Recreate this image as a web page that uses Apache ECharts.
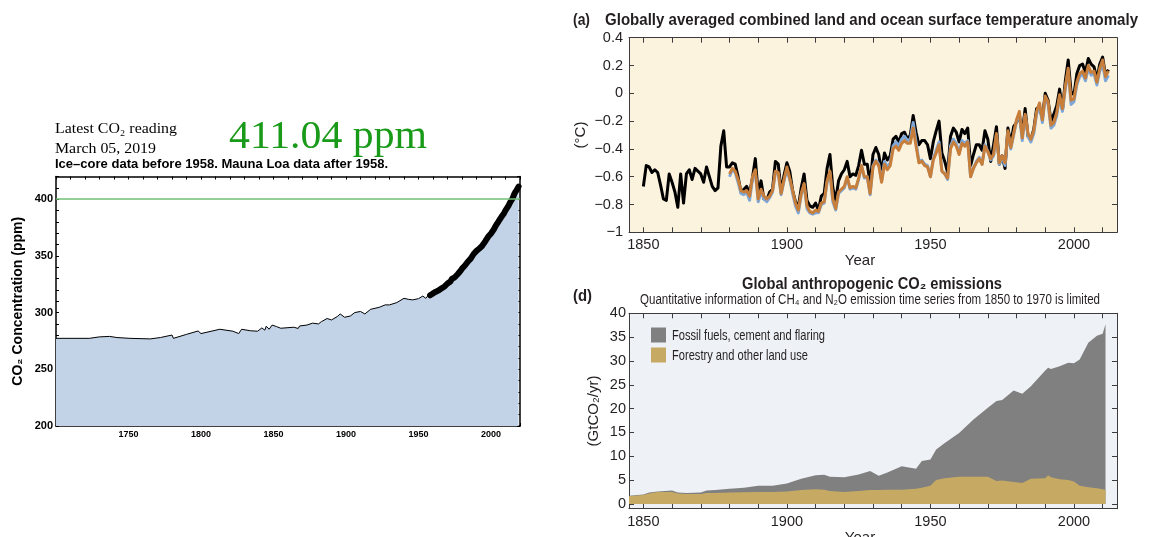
<!DOCTYPE html>
<html>
<head>
<meta charset="utf-8">
<script src="https://cdn.jsdelivr.net/npm/echarts@6.0.0/dist/echarts.min.js"></script>
<style>
  html, body { margin: 0; padding: 0; background: #fff; }
  #chart { width: 1149px; height: 537px; }
</style>
</head>
<body>
<div id="chart"></div>
<script>
// ---- CO2 record (left panel) ----
const iceCoreYears = [1700,1723,1730,1737,1742,1751,1765,1772,1780,1781,1790,1798,1800,1813,1822,1826,1828,1834,1839,1842,1844,1845,1847,1849,1852,1855,1864,1867,1868,1873,1877,1881,1883,1887,1890,1894,1896,1899,1903,1906,1910,1913,1917,1920,1923,1927,1930,1935,1940,1943,1946,1950,1953,1955,1957]
const iceCorePpm = [277.3,277.3,278.6,279.0,278.0,277.3,276.8,278.0,280.2,277.3,280.8,283.8,281.5,285.3,283.6,281.5,285.3,284.0,283.6,286.5,284.5,288.0,285.3,289.0,287.7,286.2,287.1,286.0,288.2,289.0,290.7,290.0,292.0,294.8,293.5,296.5,298.8,295.9,297.0,300.0,301.0,298.8,302.9,303.8,304.7,306.8,306.8,308.8,312.6,311.7,311.2,312.3,314.6,312.6,315.6]
const maunaLoaStart = 1958
const maunaLoaPpm = [315.2,315.98,316.91,317.64,318.45,318.99,319.62,320.04,321.38,322.16,323.04,324.62,325.68,326.32,327.46,329.68,330.19,331.13,332.03,333.84,335.41,336.84,338.76,340.12,341.48,343.15,344.87,346.35,347.61,349.31,351.69,353.20,354.45,355.70,356.54,357.21,358.96,360.97,362.74,363.88,366.84,368.54,369.71,371.32,373.45,375.98,377.70,379.98,382.09,384.02,385.83,387.64,390.10,391.85,394.06,396.74,398.81,401.01,404.41,406.76,408.72,411.04]
const co2Reference = 400
const co2YearLabels = [1750, 1800, 1850, 1900, 1950, 2000]
const co2PpmLabels = [200, 250, 300, 350, 400]

// ---- (a) temperature anomaly ----
const hadcrutStart = 1850
const hadcrutAnomaly = [
  -0.67,-0.52,-0.53,-0.57,-0.55,-0.57,-0.66,-0.76,-0.77,-0.58,
  -0.64,-0.71,-0.82,-0.58,-0.79,-0.58,-0.55,-0.62,-0.54,-0.56,
  -0.58,-0.64,-0.53,-0.60,-0.67,-0.70,-0.68,-0.38,-0.27,-0.53,
  -0.53,-0.50,-0.51,-0.60,-0.71,-0.69,-0.67,-0.72,-0.61,-0.47,
  -0.72,-0.63,-0.76,-0.77,-0.71,-0.69,-0.49,-0.51,-0.71,-0.59,
  -0.50,-0.56,-0.70,-0.78,-0.82,-0.68,-0.58,-0.77,-0.81,-0.82,
  -0.79,-0.84,-0.74,-0.72,-0.54,-0.44,-0.68,-0.77,-0.63,-0.58,
  -0.55,-0.49,-0.60,-0.58,-0.59,-0.52,-0.41,-0.51,-0.51,-0.65,
  -0.44,-0.39,-0.44,-0.57,-0.43,-0.48,-0.45,-0.33,-0.31,-0.35,
  -0.29,-0.28,-0.33,-0.30,-0.16,-0.28,-0.37,-0.34,-0.34,-0.37,
  -0.47,-0.35,-0.27,-0.20,-0.43,-0.49,-0.57,-0.31,-0.25,-0.28,
  -0.35,-0.26,-0.29,-0.25,-0.52,-0.44,-0.37,-0.37,-0.41,-0.27,
  -0.33,-0.49,-0.37,-0.24,-0.51,-0.45,-0.54,-0.25,-0.36,-0.24,
  -0.21,-0.16,-0.29,-0.11,-0.31,-0.33,-0.26,-0.11,-0.10,-0.18,
  0.00,-0.05,-0.20,-0.15,-0.09,0.03,-0.12,0.09,0.24,0.01,
  -0.01,0.14,0.20,0.21,0.15,0.25,0.21,0.19,0.10,0.21,
  0.26,0.13,0.17
]
const otherStart = 1880
const blueAnomaly = [
  -0.60,-0.55,-0.57,-0.64,-0.72,-0.73,-0.71,-0.77,-0.62,-0.57,
  -0.78,-0.71,-0.76,-0.78,-0.75,-0.71,-0.57,-0.58,-0.73,-0.63,
  -0.55,-0.62,-0.72,-0.81,-0.86,-0.73,-0.66,-0.83,-0.86,-0.87,
  -0.86,-0.86,-0.80,-0.79,-0.64,-0.57,-0.78,-0.84,-0.72,-0.70,
  -0.68,-0.61,-0.69,-0.68,-0.69,-0.62,-0.52,-0.61,-0.60,-0.73,
  -0.52,-0.48,-0.51,-0.63,-0.49,-0.53,-0.50,-0.38,-0.35,-0.38,
  -0.33,-0.31,-0.34,-0.33,-0.21,-0.35,-0.49,-0.48,-0.51,-0.52,
  -0.60,-0.47,-0.41,-0.35,-0.56,-0.58,-0.62,-0.38,-0.33,-0.36,
  -0.43,-0.34,-0.36,-0.34,-0.60,-0.54,-0.49,-0.46,-0.51,-0.37,
  -0.42,-0.48,-0.45,-0.30,-0.51,-0.46,-0.52,-0.28,-0.40,-0.30,
  -0.20,-0.15,-0.34,-0.16,-0.31,-0.35,-0.29,-0.15,-0.09,-0.21,
  -0.03,-0.08,-0.25,-0.23,-0.16,-0.03,-0.13,0.03,0.16,-0.08,
  -0.06,0.06,0.12,0.14,0.09,0.18,0.13,0.14,0.06,0.16,
  0.21,0.09,0.13
]
const orangeAnomaly = [
  -0.58,-0.54,-0.56,-0.62,-0.70,-0.71,-0.70,-0.74,-0.60,-0.55,
  -0.76,-0.69,-0.74,-0.76,-0.74,-0.70,-0.56,-0.57,-0.72,-0.62,
  -0.53,-0.61,-0.70,-0.79,-0.84,-0.72,-0.65,-0.81,-0.85,-0.86,
  -0.84,-0.85,-0.79,-0.78,-0.63,-0.56,-0.76,-0.83,-0.71,-0.69,
  -0.67,-0.60,-0.68,-0.67,-0.68,-0.61,-0.52,-0.60,-0.60,-0.72,
  -0.53,-0.49,-0.52,-0.64,-0.51,-0.55,-0.52,-0.40,-0.38,-0.41,
  -0.36,-0.34,-0.36,-0.36,-0.25,-0.38,-0.50,-0.49,-0.52,-0.53,
  -0.60,-0.48,-0.43,-0.37,-0.56,-0.58,-0.61,-0.40,-0.35,-0.38,
  -0.44,-0.36,-0.38,-0.35,-0.60,-0.54,-0.50,-0.47,-0.51,-0.38,
  -0.42,-0.47,-0.44,-0.29,-0.50,-0.45,-0.50,-0.27,-0.39,-0.29,
  -0.19,-0.13,-0.32,-0.15,-0.29,-0.33,-0.27,-0.13,-0.07,-0.19,
  -0.02,-0.06,-0.23,-0.21,-0.14,-0.01,-0.11,0.05,0.18,-0.05,
  -0.04,0.08,0.14,0.16,0.11,0.20,0.15,0.16,0.08,0.18,
  0.24,0.12,0.16
]
const decadeYearLabels = [1850, 1900, 1950, 2000]

// ---- (d) CO2 emissions ----
const emissionYears = [1845,1850,1852,1855,1860,1862,1865,1870,1872,1875,1880,1885,1890,1895,1900,1905,1910,1913,1915,1920,1925,1929,1932,1935,1940,1945,1947,1950,1952,1955,1960,1965,1970,1973,1975,1979,1982,1985,1990,1991,1992,1995,1998,2000,2002,2005,2008,2010,2011]
const forestryEmissions = [1.6,1.9,2.2,2.5,2.5,2.2,2.1,2.1,2.3,2.3,2.4,2.45,2.5,2.5,2.6,2.9,3.1,3.0,2.7,2.5,2.7,2.9,2.9,3.0,3.0,3.2,3.4,3.8,5.0,5.4,5.7,5.7,5.7,4.8,4.9,4.6,4.4,5.3,5.4,6.0,5.6,5.2,5.0,4.7,3.8,3.5,3.3,3.1,3.0]
const fossilEmissions = [0.1,0.1,0.2,0.1,0.3,0.2,0.2,0.3,0.5,0.6,0.8,0.95,1.3,1.3,1.7,2.4,2.9,3.1,3.0,3.1,3.5,4.0,3.0,3.6,4.9,4.2,5.6,5.5,6.4,7.4,9.2,12.0,14.5,16.8,16.9,19.2,18.7,19.4,22.6,22.6,22.7,23.7,24.6,24.8,26.5,30.3,32.0,32.6,34.7]
const emissionLabels = [0, 5, 10, 15, 20, 25, 30, 35, 40]
const fossilName = 'Fossil fuels, cement and flaring'
const forestryName = 'Forestry and other land use'
const fossilColor = '#808080'
const forestryColor = '#c6aa64'

function range(a, b, step) {
  let r = []
  for (let v = a; v <= b + 1e-9; v += step) r.push(v)
  return r
}
function fromStart(start, arr) {
  return arr.map((v, i) => [start + i, v])
}
function pairs(xs, ys) {
  return ys.map((v, i) => [xs[i], v])
}

const sans = "'Liberation Sans', Arial, sans-serif"
const serif = "'Liberation Serif', 'Times New Roman', serif"
const ink = '#231f20'

// the original uses a condensed face; squeeze Liberation Sans to the same width
let measureCtx = document.createElement('canvas').getContext('2d')
function fitScale(text, font, width) {
  measureCtx.font = font
  return width / measureCtx.measureText(text).width
}
function txt(text, x, y, font, width, opts) {
  opts = opts || {}
  let align = opts.align || 'left'
  return {
    type: 'text', x: x, y: y, scaleX: width ? fitScale(text, font, width) : 1,
    style: {
      text: text, font: font, fill: opts.fill || ink,
      textAlign: align, align: align, textVerticalAlign: 'middle', verticalAlign: 'middle',
    },
  }
}

let chart = echarts.init(document.getElementById('chart'))

let blackFrame = { show: true, onZero: false, lineStyle: { color: '#000', width: 1.5 } }
let greyFrame = { show: true, onZero: false, lineStyle: { color: '#3c3c3c', width: 1 } }
let blackTick = { show: true, inside: true, length: 3, lineStyle: { color: '#000', width: 1 } }
let greyTick = (vals) => ({ show: true, inside: true, length: 5, customValues: vals, lineStyle: { color: '#3c3c3c', width: 1 } })
let tickLabel = { fontFamily: sans, fontSize: 14.5, color: ink, formatter: (v) => String(v) }
let plain = (v) => String(v)

let decadeTicks = range(1850, 2010, 10)
let total = fossilEmissions.map((v, i) => +(v + forestryEmissions[i]).toFixed(2))
let maunaLoa = fromStart(maunaLoaStart, maunaLoaPpm)
let co2Area = pairs(iceCoreYears, iceCorePpm).concat(maunaLoa)

let legendFont = '15px ' + sans

let option = {
  animation: false,
  backgroundColor: '#fff',
  grid: [
    { left: 56, top: 176.5, width: 464, height: 249.5, outerBoundsMode: 'none' },
    { left: 629, top: 37.7, width: 488, height: 194.6, show: true, backgroundColor: '#fcf3df', borderWidth: 0, outerBoundsMode: 'none' },
    { left: 629, top: 313.3, width: 488, height: 195.4, show: true, backgroundColor: '#eef1f6', borderWidth: 0, outerBoundsMode: 'none' },
  ],
  xAxis: [
    {
      gridIndex: 0, type: 'value', min: 1700, max: 2020, interval: 10,
      axisLine: blackFrame, axisTick: blackTick, splitLine: { show: false },
      axisLabel: { customValues: co2YearLabels, margin: 4, fontSize: 9, fontWeight: 'bold', fontFamily: sans, color: '#000', formatter: plain },
    },
    {
      gridIndex: 0, type: 'value', position: 'top', min: 1700, max: 2020, interval: 10,
      axisLine: blackFrame, axisTick: blackTick, splitLine: { show: false }, axisLabel: { show: false },
    },
    {
      gridIndex: 1, type: 'value', min: 1845, max: 2015,
      axisLine: greyFrame, axisTick: greyTick(decadeTicks), splitLine: { show: false },
      axisLabel: Object.assign({ customValues: decadeYearLabels, margin: 5 }, tickLabel),
      name: 'Year', nameLocation: 'middle', nameGap: 14,
      nameTextStyle: { fontFamily: sans, fontSize: 15, color: ink, padding: [0, 26, 0, 0] },
    },
    {
      gridIndex: 1, type: 'value', position: 'top', min: 1845, max: 2015,
      axisLine: greyFrame, axisTick: greyTick(decadeTicks), splitLine: { show: false }, axisLabel: { show: false },
    },
    {
      gridIndex: 2, type: 'value', min: 1845, max: 2015,
      axisLine: greyFrame, axisTick: greyTick(decadeTicks), splitLine: { show: false },
      axisLabel: Object.assign({ customValues: decadeYearLabels, margin: 6 }, tickLabel),
      name: 'Year', nameLocation: 'middle', nameGap: 14,
      nameTextStyle: { fontFamily: sans, fontSize: 15, color: ink, padding: [0, 26, 0, 0] },
    },
    {
      gridIndex: 2, type: 'value', position: 'top', min: 1845, max: 2015,
      axisLine: greyFrame, axisTick: greyTick(decadeTicks), splitLine: { show: false }, axisLabel: { show: false },
    },
  ],
  yAxis: [
    {
      gridIndex: 0, type: 'value', min: 200, max: 420, interval: 10,
      axisLine: blackFrame, axisTick: blackTick, splitLine: { show: false },
      axisLabel: { customValues: co2PpmLabels, margin: 3, fontSize: 11, fontWeight: 'bold', fontFamily: sans, color: '#000', formatter: plain },
      name: 'CO₂ Concentration (ppm)', nameLocation: 'middle', nameGap: 31,
      nameTextStyle: { fontFamily: sans, fontSize: 14, fontWeight: 'bold', color: '#000' },
    },
    {
      gridIndex: 0, type: 'value', position: 'right', min: 200, max: 420, interval: 10,
      axisLine: blackFrame, axisTick: blackTick, splitLine: { show: false }, axisLabel: { show: false },
    },
    {
      gridIndex: 1, type: 'value', min: -1, max: 0.4, interval: 0.2,
      axisLine: greyFrame, axisTick: { show: true, inside: true, length: 5, lineStyle: { color: '#3c3c3c' } },
      splitLine: { show: false },
      axisLabel: Object.assign({}, tickLabel, {
        margin: 6,
        formatter: (v) => {
          if (Math.abs(v) < 1e-9) return '0'
          if (Math.abs(v + 1) < 1e-9) return '\u22121'
          return v.toFixed(1).replace('-', '\u2212')
        },
      }),
      name: '(°C)', nameLocation: 'middle', nameGap: 41,
      nameTextStyle: { fontFamily: sans, fontSize: 15, color: ink },
    },
    {
      gridIndex: 1, type: 'value', position: 'right', min: -1, max: 0.4, interval: 0.2,
      axisLine: greyFrame, axisTick: { show: true, inside: true, length: 5, lineStyle: { color: '#3c3c3c' } },
      splitLine: { show: false }, axisLabel: { show: false },
    },
    {
      gridIndex: 2, type: 'value', min: -1, max: 40,
      axisLine: greyFrame, axisTick: greyTick(emissionLabels), splitLine: { show: false },
      axisLabel: Object.assign({ customValues: emissionLabels, margin: 3 }, tickLabel),
      name: '(GtCO₂/yr)', nameLocation: 'middle', nameGap: 28,
      nameTextStyle: { fontFamily: sans, fontSize: 15, color: ink },
    },
    {
      gridIndex: 2, type: 'value', position: 'right', min: -1, max: 40,
      axisLine: greyFrame, axisTick: greyTick(emissionLabels), splitLine: { show: false }, axisLabel: { show: false },
    },
  ],
  graphic: [
    txt('Latest CO₂ reading', 55, 129, '15px ' + serif, 122, { fill: '#000' }),
    txt('March 05, 2019', 55, 149, '15px ' + serif, 101, { fill: '#000' }),
    txt('411.04 ppm', 229, 137, '40px ' + serif, 198, { fill: '#199a19' }),
    txt('Ice\u2013core data before 1958. Mauna Loa data after 1958.', 55, 165, 'bold 12.5px ' + sans, 333, { fill: '#000' }),
    txt('(a)', 573, 20, 'bold 17px ' + sans, 17),
    txt('Globally averaged combined land and ocean surface temperature anomaly', 605, 20, 'bold 17px ' + sans, 533),
    txt('(d)', 573, 296, 'bold 17px ' + sans, 19),
    txt('Global anthropogenic CO₂ emissions', 872, 284, 'bold 17px ' + sans, 260, { align: 'center' }),
    txt('Quantitative information of CH₄ and N₂O emission time series from 1850 to 1970 is limited', 870, 300, '14px ' + sans, 460, { align: 'center' }),
    // legend for panel (d)
    { type: 'rect', shape: { x: 651, y: 327.5, width: 15, height: 15 }, style: { fill: fossilColor } },
    { type: 'rect', shape: { x: 651, y: 347.5, width: 15, height: 15 }, style: { fill: forestryColor } },
    txt(fossilName, 672, 335.5, legendFont, 153),
    txt(forestryName, 672, 355.5, legendFont, 136),
  ],
  series: [
    {
      name: 'CO2 area', type: 'line', xAxisIndex: 0, yAxisIndex: 0,
      data: co2Area, showSymbol: false, z: 2,
      lineStyle: { color: '#000', width: 1 },
      areaStyle: { color: '#c2d3e7', opacity: 1, origin: 'start' },
    },
    {
      name: 'Mauna Loa', type: 'line', xAxisIndex: 0, yAxisIndex: 0,
      data: maunaLoa, showSymbol: false, z: 3,
      lineStyle: { color: '#000', width: 6, join: 'round', cap: 'round' },
      markLine: {
        silent: true, symbol: ['none', 'none'], label: { show: false },
        lineStyle: { color: '#6fbf73', width: 1.5, type: 'solid' },
        data: [{ yAxis: co2Reference }],
      },
    },
    {
      name: 'HadCRUT4', type: 'line', xAxisIndex: 2, yAxisIndex: 2,
      data: fromStart(hadcrutStart, hadcrutAnomaly), showSymbol: false, z: 3,
      lineStyle: { color: '#000', width: 3, join: 'round' },
    },
    {
      name: 'Blue record', type: 'line', xAxisIndex: 2, yAxisIndex: 2,
      data: fromStart(otherStart, blueAnomaly), showSymbol: false, z: 4,
      lineStyle: { color: '#7ea7d8', width: 3, join: 'round' },
    },
    {
      name: 'Orange record', type: 'line', xAxisIndex: 2, yAxisIndex: 2,
      data: fromStart(otherStart, orangeAnomaly), showSymbol: false, z: 5,
      lineStyle: { color: '#c87e3b', width: 3, join: 'round' },
    },
    {
      name: fossilName, type: 'line', xAxisIndex: 4, yAxisIndex: 4,
      data: pairs(emissionYears, total), showSymbol: false, z: 2,
      itemStyle: { color: fossilColor },
      lineStyle: { width: 0, color: fossilColor },
      areaStyle: { color: fossilColor, opacity: 1 },
    },
    {
      name: forestryName, type: 'line', xAxisIndex: 4, yAxisIndex: 4,
      data: pairs(emissionYears, forestryEmissions), showSymbol: false, z: 3,
      itemStyle: { color: forestryColor },
      lineStyle: { width: 0, color: forestryColor },
      areaStyle: { color: forestryColor, opacity: 1 },
    },
  ],
}

chart.setOption(option)
</script>
</body>
</html>
